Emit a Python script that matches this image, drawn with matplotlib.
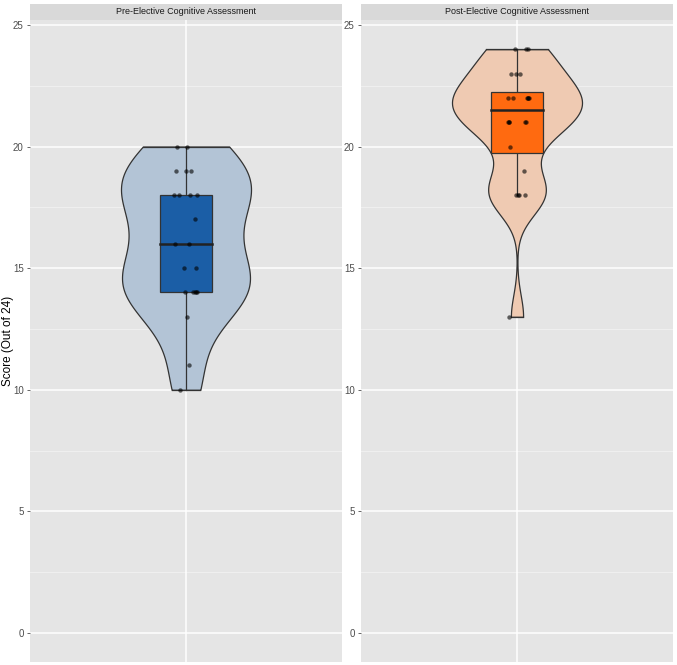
import numpy as np
import matplotlib
matplotlib.use("Agg")
import matplotlib.pyplot as plt

plt.rcParams['font.family'] = ['Liberation Sans', 'DejaVu Sans']

panels = ["Pre-Elective Cognitive Assessment", "Post-Elective Cognitive Assessment"]

pre_scores = [10, 11, 13, 14, 14, 14, 14, 14, 15, 15, 16, 16, 17,
              18, 18, 18, 18, 19, 19, 19, 20, 20]
post_scores = [13, 18, 18, 18, 18, 19, 20, 21, 21, 21, 21, 21,
               22, 22, 22, 22, 22, 22, 23, 23, 23, 24, 24, 24]

# horizontal jitter of each point (pixels from centre)
pre_jitter_px = [-6, 3, 1.3, -1, 7, 9, 10, 11, -2, 10, -11, 3.3, 9,
                 -12, -7, 4, 10.7, -10, 0, 5, -8.7, 1.3]
post_jitter_px = [-8.3, -1, 0.7, 2.3, 8.3, 7.3, -6.7, -8.7, -8, -7.7, 8.3, 9,
                  -9.3, -4.3, 10.3, 10.7, 11.3, 11.7, -6, -1, 3.3, -2, 9, 11.3]

violin_colors = ["#B3C4D6", "#EFCAB2"]
box_colors = ["#1B5EA6", "#FF6A10"]

y_ticks = [0, 5, 10, 15, 20, 25]


def nrd0(x):
    x = np.asarray(x, float)
    sd = x.std(ddof=1)
    q75, q25 = np.percentile(x, [75, 25])
    lo = min(sd, (q75 - q25) / 1.34)
    return 0.9 * lo * len(x) ** -0.2


def kde(x, grid):
    x = np.asarray(x, float)
    bw = nrd0(x)
    d = np.exp(-0.5 * ((grid[:, None] - x[None, :]) / bw) ** 2).sum(axis=1)
    return d / (len(x) * bw * np.sqrt(2 * np.pi))


fig = plt.figure(figsize=(6.77, 6.65), dpi=100)
W, H = 677, 665
px_per_unit = 312 / 1.2

lefts = [30, 361]
for i, (name, scores, jit) in enumerate(zip(panels, [pre_scores, post_scores],
                                            [pre_jitter_px, post_jitter_px])):
    x0 = lefts[i]
    ax = fig.add_axes([x0 / W, 1 - 662 / H, 312 / W, 642 / H])
    ax.set_facecolor("#E5E5E5")
    ax.set_xlim(0.4, 1.6)
    ax.set_ylim(-1.19, 25.2)
    for s in ax.spines.values():
        s.set_visible(False)

    # grid
    for y in np.arange(2.5, 25, 5):
        ax.axhline(y, color="#F2F2F2", lw=0.6, zorder=0)
    for y in y_ticks:
        ax.axhline(y, color="white", lw=1.1, zorder=0)
    ax.axvline(1, color="white", lw=1.1, zorder=0)

    # violin
    data = np.array(scores, float)
    grid = np.linspace(data.min(), data.max(), 512)
    dens = kde(data, grid)
    half = dens / dens.max() * 0.25
    ax.fill_betweenx(grid, 1 - half, 1 + half, facecolor=violin_colors[i],
                     edgecolor="#333333", lw=0.9, zorder=2)
    ax.plot([1 - half[0], 1 + half[0]], [grid[0], grid[0]], color="#333333", lw=0.9, zorder=2)
    ax.plot([1 - half[-1], 1 + half[-1]], [grid[-1], grid[-1]], color="#333333", lw=0.9, zorder=2)

    # box
    q1, med, q3 = np.percentile(data, [25, 50, 75])
    iqr = q3 - q1
    lo_w = data[data >= q1 - 1.5 * iqr].min()
    hi_w = data[data <= q3 + 1.5 * iqr].max()
    ax.plot([1, 1], [lo_w, q1], color="#333333", lw=0.9, zorder=3)
    ax.plot([1, 1], [q3, hi_w], color="#333333", lw=0.9, zorder=3)
    ax.add_patch(plt.Rectangle((0.9, q1), 0.2, q3 - q1, facecolor=box_colors[i],
                               edgecolor="#333333", lw=0.9, zorder=3))
    ax.plot([0.9, 1.1], [med, med], color="#222222", lw=1.8, zorder=4)

    # points
    xs = 1 + np.array(jit) / px_per_unit
    ax.scatter(xs, data, s=10, color="black", alpha=0.6, linewidths=0, zorder=5)

    ax.set_xticks([])
    ax.set_yticks(y_ticks)
    ax.set_yticklabels([str(t) for t in y_ticks], fontsize=7, color="#4D4D4D")
    ax.tick_params(axis="y", length=2.5, width=0.6, color="#4D4D4D", pad=2)

    # strip
    sax = fig.add_axes([x0 / W, 1 - 20 / H, 312 / W, 16 / H])
    sax.set_facecolor("#D9D9D9")
    sax.set_xticks([])
    sax.set_yticks([])
    for s in sax.spines.values():
        s.set_visible(False)
    sax.text(0.5, 0.5, name, ha="center", va="center", fontsize=6.5,
             color="#1A1A1A", transform=sax.transAxes)

fig.text(8 / W, 1 - 341 / H, "Score (Out of 24)", rotation=90, ha="center",
         va="center", fontsize=8.5, color="black")

fig.savefig("out.png", dpi=100)
